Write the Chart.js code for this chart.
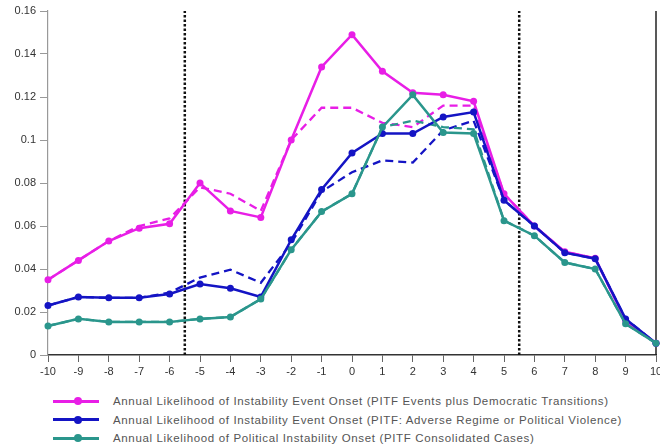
<!DOCTYPE html>
<html>
<head>
<meta charset="utf-8">
<script src="https://cdn.jsdelivr.net/npm/chart.js"></script>
<style>
    body { margin: 0; background: #fff; font-family: "Liberation Sans", Arial, sans-serif; }
    #wrap { position: relative; width: 660px; height: 447px; }
    #chart { position: absolute; left: 0; top: 0; }
    .legend { position: absolute; left: 53px; top: 392px; }
    .row { height: 18.5px; display: flex; align-items: center; font-size: 11.5px; color: #555; letter-spacing: 0.65px; }
    .sw { position: relative; width: 46px; height: 3px; margin-right: 14px; }
    .sw i { position: absolute; left: 21px; top: -2.5px; width: 8px; height: 8px; border-radius: 50%; background: inherit; }
</style>
</head>
<body>
<div id="wrap">
    <canvas id="chart" width="660" height="385"></canvas>
    <div class="legend" id="legend"></div>
</div>
<script>
    // Years relative to onset
    const years = [-10, -9, -8, -7, -6, -5, -4, -3, -2, -1, 0, 1, 2, 3, 4, 5, 6, 7, 8, 9, 10];

    // PITF events plus democratic transitions
    const pitfDem = [0.035, 0.044, 0.053, 0.059, 0.061, 0.080, 0.067, 0.064, 0.100, 0.134, 0.149, 0.132, 0.122, 0.121, 0.118, 0.075, 0.060, 0.048, 0.045, 0.016, 0.0055];
    const pitfDemDash = [0.035, 0.044, 0.053, 0.060, 0.0635, 0.078, 0.075, 0.067, 0.100, 0.115, 0.115, 0.108, 0.106, 0.116, 0.116, 0.075, 0.060, 0.048, 0.045, 0.016, 0.0055];

    // PITF adverse regime or political violence
    const adverse = [0.023, 0.027, 0.0266, 0.0266, 0.0284, 0.033, 0.031, 0.027, 0.0536, 0.077, 0.094, 0.103, 0.103, 0.1107, 0.113, 0.072, 0.060, 0.0476, 0.0448, 0.0168, 0.0055];
    const adverseDash = [0.023, 0.027, 0.0266, 0.0266, 0.029, 0.036, 0.0397, 0.0336, 0.052, 0.076, 0.085, 0.0905, 0.0895, 0.1045, 0.109, 0.072, 0.060, 0.0476, 0.0448, 0.0168, 0.0055];

    // PITF consolidated cases
    const consolidated = [0.0135, 0.0168, 0.0154, 0.0154, 0.0154, 0.0168, 0.0177, 0.026, 0.049, 0.0667, 0.075, 0.106, 0.121, 0.1035, 0.103, 0.0625, 0.0555, 0.043, 0.040, 0.0145, 0.0055];
    const consolidatedDash = [0.0135, 0.0168, 0.0154, 0.0154, 0.0154, 0.0168, 0.0177, 0.026, 0.049, 0.0667, 0.075, 0.106, 0.109, 0.106, 0.105, 0.0625, 0.0555, 0.043, 0.040, 0.0145, 0.0055];

    const yTicks = ['0', '0.02', '0.04', '0.06', '0.08', '0.1', '0.12', '0.14', '0.16'];
    const markers = [-5.5, 5.5];

    const legendLabels = [
        'Annual Likelihood of Instability Event Onset (PITF Events plus Democratic Transitions)',
        'Annual Likelihood of Instability Event Onset (PITF: Adverse Regime or Political Violence)',
        'Annual Likelihood of Political Instability Onset (PITF Consolidated Cases)'
    ];
    const colors = ['#e81ee6', '#1414c4', '#2a968c'];

    const pts = arr => arr.map((v, i) => ({ x: years[i], y: v }));

    function solid(arr, color, order) {
        return {
            data: pts(arr), borderColor: color, backgroundColor: color,
            borderWidth: 2.5, pointRadius: 3.5, pointBorderWidth: 0,
            tension: 0, clip: 5, order: order
        };
    }
    function dashed(arr, color, order) {
        return {
            data: pts(arr), borderColor: color, borderWidth: 2.3,
            borderDash: [8, 5], pointRadius: 0, tension: 0, clip: 5, order: order
        };
    }

    const datasets = [
        solid(consolidated, colors[2], 1),
        solid(adverse, colors[1], 2),
        solid(pitfDem, colors[0], 3),
        dashed(consolidatedDash, colors[2], 4),
        dashed(adverseDash, colors[1], 5),
        dashed(pitfDemDash, colors[0], 6)
    ];
    markers.forEach(m => datasets.push({
        data: [{ x: m, y: 0 }, { x: m, y: 0.16 }],
        borderColor: '#111', borderWidth: 2.5, borderDash: [2.5, 2],
        pointRadius: 0, order: 10
    }));
    datasets.push({
        data: [{ x: 10, y: 0 }, { x: 10, y: 0.16 }],
        borderColor: '#222', borderWidth: 1.5, pointRadius: 0, clip: 5, order: 11
    });

    new Chart(document.getElementById('chart'), {
        type: 'line',
        data: { datasets: datasets },
        options: {
            responsive: false,
            animation: false,
            layout: { padding: { top: 11, right: 3, left: 0, bottom: 0 } },
            plugins: { legend: { display: false }, tooltip: { enabled: false } },
            scales: {
                x: {
                    type: 'linear', min: -10, max: 10,
                    ticks: { stepSize: 1, color: '#333', padding: 3, maxRotation: 0,
                        font: { family: 'Liberation Sans', size: 11 } },
                    grid: { drawOnChartArea: false, tickLength: 7, color: '#666' },
                    border: { color: '#333', width: 1.5 },
                    afterFit: s => { s.height = 30; s.paddingLeft = 0; s.paddingRight = 0; }
                },
                y: {
                    min: 0, max: 0.16,
                    ticks: { stepSize: 0.02, color: '#333', padding: 4,
                        font: { family: 'Liberation Sans', size: 11 },
                        callback: (v, i) => yTicks[i] },
                    grid: { drawOnChartArea: false, tickLength: 8, color: '#999' },
                    border: { color: '#999', width: 1.2 },
                    afterFit: s => { s.width = 48; s.paddingTop = 0; s.paddingBottom = 0; }
                }
            }
        }
    });

    // HTML legend
    const legend = document.getElementById('legend');
    legendLabels.forEach((txt, i) => {
        const row = document.createElement('div');
        row.className = 'row';
        row.innerHTML = `<span class="sw" style="background:${colors[i]}"><i></i></span>${txt}`;
        legend.appendChild(row);
    });
</script>
</body>
</html>
